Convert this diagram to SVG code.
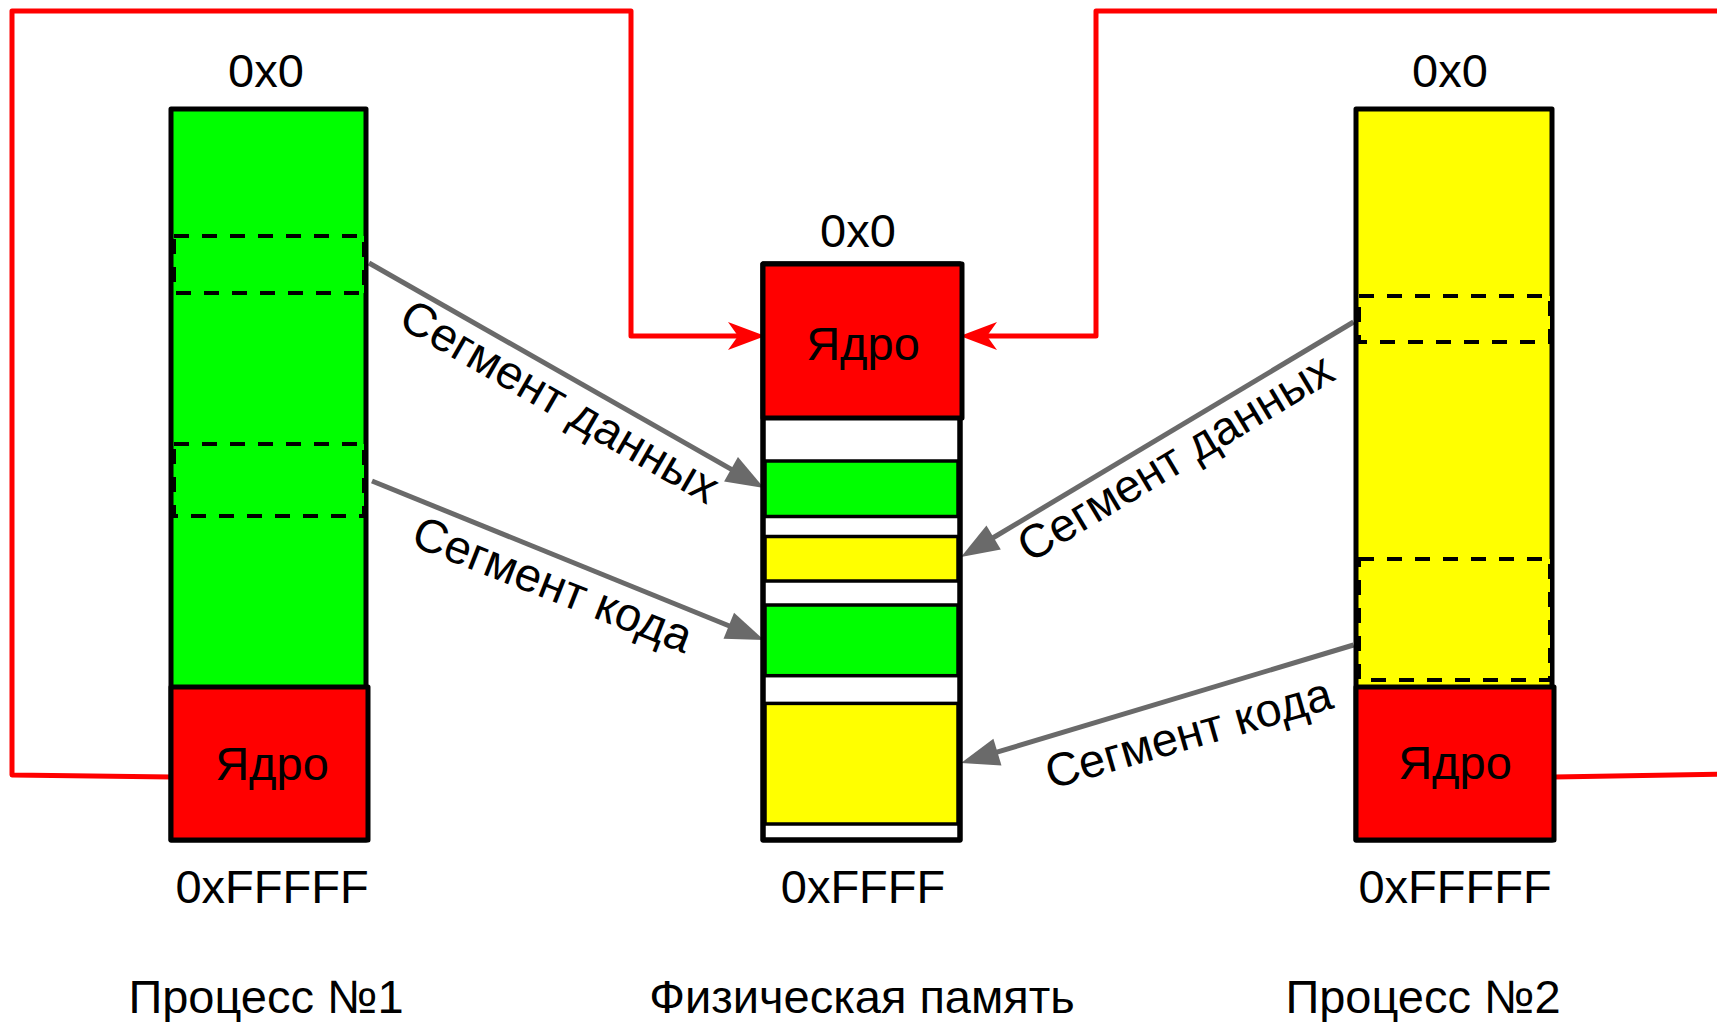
<svg xmlns="http://www.w3.org/2000/svg" width="1717" height="1022" viewBox="0 0 1717 1022">
<style>
text{font-family:"Liberation Sans",Arial,sans-serif;font-size:47px;fill:#000;text-anchor:middle}
.col{stroke:#000;stroke-width:5;stroke-linejoin:round}
.blk{stroke:#000;stroke-width:3.5}
.dash{fill:none;stroke:#000;stroke-width:4;stroke-dasharray:15 13}
.red{fill:none;stroke:#ff0000;stroke-width:5;stroke-linejoin:round}
.gray{fill:none;stroke:#6a6a6a;stroke-width:5}
.g{fill:#00ff00}.y{fill:#ffff00}.r{fill:#ff0000}.w{fill:#fff}
</style>
<defs>
<marker id="ra" markerUnits="userSpaceOnUse" viewBox="0 0 40 30" markerWidth="40" markerHeight="30" refX="12" refY="14" orient="auto" overflow="visible"><path d="M0,0 L37,14 L0,28 L10,14 z" fill="#ff0000"/></marker>
<marker id="ga" markerUnits="userSpaceOnUse" viewBox="0 0 40 30" markerWidth="40" markerHeight="30" refX="4" refY="14" orient="auto" overflow="visible"><path d="M0,0 L38,14 L0,28 z" fill="#6a6a6a"/></marker>
</defs>
<rect width="1717" height="1022" fill="#fff"/>
<g id="connectors">
<path class="red" d="M172,777 L12,775 L12,11 L631,11 L631,336 L740,336" marker-end="url(#ra)"/>
<path class="red" d="M1554,777 L1730,774 L1730,11 L1096,11 L1096,336 L985,336" marker-end="url(#ra)"/>
<line class="gray" x1="369" y1="263" x2="734.5" y2="471.2" marker-end="url(#ga)"/>
<line class="gray" x1="372" y1="481" x2="732.5" y2="627.2" marker-end="url(#ga)"/>
<line class="gray" x1="1353.5" y1="322" x2="990.2" y2="539.5" marker-end="url(#ga)"/>
<line class="gray" x1="1353.5" y1="645" x2="993.6" y2="753.2" marker-end="url(#ga)"/>
<text transform="translate(572.5 379.8) rotate(30)" x="0" y="41">Сегмент данных</text>
<text transform="translate(563 558.4) rotate(21.5)" x="0" y="44">Сегмент кода</text>
<text transform="translate(1162.5 435.9) rotate(-31)" x="0" y="41">Сегмент данных</text>
<text transform="translate(1178.3 697.5) rotate(-16)" x="0" y="53">Сегмент кода</text>
</g>
<g id="process1">
<rect class="col g" x="171" y="109" width="195" height="731"/>
<rect class="dash g" x="174" y="236" width="190" height="57"/>
<rect class="dash g" x="174" y="444" width="190" height="72"/>
<rect class="col r" x="171" y="687" width="197" height="153"/>
<text x="272" y="780">Ядро</text>
<text x="266" y="87">0x0</text>
<text x="272" y="903">0xFFFFF</text>
<text x="266" y="1013">Процесс №1</text>
</g>
<g id="physmem">
<rect class="col w" x="763" y="264" width="197" height="576"/>
<rect class="blk g" x="765" y="461" width="193" height="55.5"/>
<rect class="blk y" x="765" y="536.5" width="193" height="44.5"/>
<rect class="blk g" x="765" y="605" width="193" height="70.7"/>
<rect class="blk y" x="765" y="703.4" width="193" height="120.6"/>
<rect x="763" y="264" width="197" height="576" fill="none" class="col"/>
<rect class="col r" x="763" y="264" width="199" height="154"/>
<text x="863" y="360">Ядро</text>
<text x="858" y="247">0x0</text>
<text x="863" y="903">0xFFFF</text>
<text x="862" y="1013">Физическая память</text>
</g>
<g id="process2">
<rect class="col y" x="1356" y="109" width="196" height="731"/>
<rect class="dash y" x="1359" y="296" width="191" height="46"/>
<rect class="dash y" x="1359" y="559" width="191" height="121"/>
<rect class="col r" x="1356" y="687" width="198" height="153"/>
<text x="1455" y="779">Ядро</text>
<text x="1450" y="87">0x0</text>
<text x="1455" y="903">0xFFFFF</text>
<text x="1423" y="1013">Процесс №2</text>
</g>
</svg>
